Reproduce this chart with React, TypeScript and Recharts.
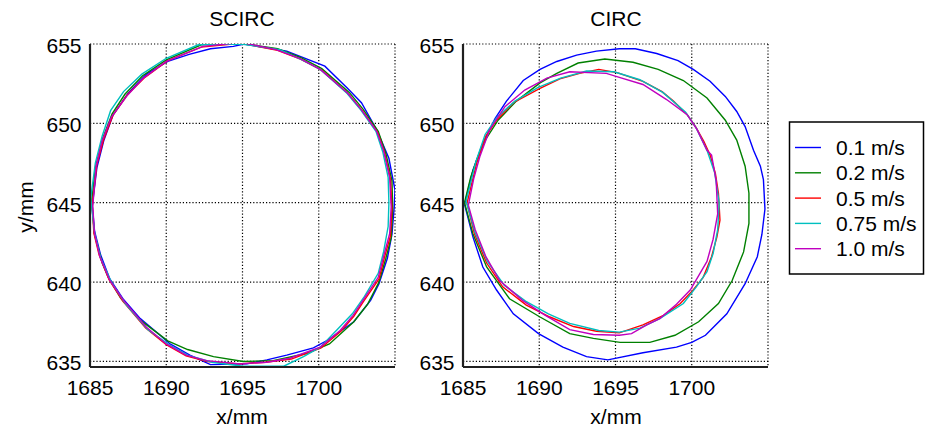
import React from "react";
import { LineChart, Line, XAxis, YAxis, CartesianGrid } from "recharts";

// ---------- data ----------
const seriesNames = ["0.1 m/s", "0.2 m/s", "0.5 m/s", "0.75 m/s", "1.0 m/s"];
const seriesColors = ["#0000FF", "#008000", "#FF0000", "#00BFBF", "#BF00BF"];
const xTicks = [1685, 1690, 1695, 1700];
const yTicks = [635, 640, 645, 650, 655];
const titles = ["SCIRC", "CIRC"];

// SCIRC
const scBlue: [number, number][] = [
  [1685.15, 644.8], [1685.45, 647.2], [1685.9, 648.9], [1686.5, 650.5], [1687.5, 651.9],
  [1688.7, 653.1], [1690.1, 653.9], [1691.5, 654.35], [1692.9, 654.7], [1694.4, 654.85],
  [1695.1, 655.0], [1697.9, 654.55], [1700.4, 653.6], [1701.9, 652.2], [1702.8, 651.3],
  [1703.8, 649.6], [1704.6, 647.8], [1705.0, 645.8], [1704.95, 644.75], [1704.8, 643.0],
  [1704.5, 641.5], [1703.95, 639.9], [1703.4, 638.85], [1702.3, 637.5], [1700.6, 636.35],
  [1699.65, 635.85], [1697.9, 635.4], [1696.6, 635.1], [1695.3, 634.85], [1692.9, 634.8],
  [1691.55, 635.4], [1690.25, 636.1], [1689.6, 636.65], [1688.3, 637.7], [1687.2, 638.9],
  [1686.3, 640.2], [1685.7, 641.7], [1685.3, 643.2], [1685.15, 644.8],
];
const scGreen: [number, number][] = [
  [1685.1, 645.0], [1685.35, 647.2], [1685.85, 649.1], [1686.45, 650.6], [1687.3, 651.85],
  [1688.45, 653.0], [1690.0, 654.0], [1692.3, 654.95], [1694.9, 655.05], [1697.3, 654.7],
  [1698.8, 654.15], [1700.2, 653.45], [1702.0, 651.95], [1702.9, 650.9], [1703.9, 649.5],
  [1704.4, 648.1], [1704.8, 646.4], [1704.85, 644.6], [1704.75, 642.8], [1704.4, 641.5],
  [1703.95, 640.0], [1703.2, 638.6], [1702.3, 637.5], [1700.7, 636.1], [1699.2, 635.5],
  [1697.0, 635.05], [1695.05, 635.0], [1693.1, 635.3], [1691.4, 635.75], [1690.1, 636.3],
  [1688.3, 637.6], [1687.0, 639.0], [1686.2, 640.3], [1685.8, 641.2], [1685.3, 643.0],
  [1685.1, 645.0],
];
const scRed: [number, number][] = [
  [1685.15, 644.9], [1685.45, 647.4], [1685.9, 649.0], [1686.5, 650.5], [1687.45, 651.8],
  [1688.6, 652.9], [1690.1, 653.95], [1692.3, 654.8], [1694.9, 655.05], [1697.3, 654.6],
  [1698.8, 654.05], [1700.2, 653.35], [1701.95, 651.85], [1702.85, 650.8], [1703.85, 649.45],
  [1704.3, 648.2], [1704.7, 646.5], [1704.8, 644.6], [1704.7, 642.9], [1704.35, 641.7],
  [1703.95, 640.2], [1702.95, 638.8], [1702.3, 637.85], [1701.45, 636.9], [1700.15, 635.85],
  [1698.2, 635.15], [1696.5, 634.95], [1694.8, 634.85], [1692.7, 635.0], [1691.3, 635.35],
  [1690.0, 636.05], [1688.65, 637.1], [1687.15, 638.8], [1686.25, 640.15], [1685.6, 641.7],
  [1685.25, 643.1], [1685.15, 644.9],
];
const scCyan: [number, number][] = [
  [1685.05, 645.3], [1685.35, 647.5], [1685.8, 649.2], [1686.35, 650.8], [1687.2, 652.0],
  [1688.4, 653.1], [1690.0, 654.1], [1692.1, 654.95], [1694.9, 655.0], [1697.45, 654.65],
  [1698.9, 654.0], [1700.1, 653.4], [1701.85, 651.9], [1702.75, 650.85], [1703.75, 649.5],
  [1704.2, 648.2], [1704.55, 646.6], [1704.6, 645.0], [1704.55, 643.5], [1704.25, 641.9],
  [1703.9, 640.55], [1703.0, 639.1], [1702.2, 638.0], [1701.2, 637.0], [1700.1, 635.9],
  [1699.0, 635.3], [1697.7, 634.7], [1695.05, 634.7], [1693.0, 634.95], [1691.4, 635.4],
  [1690.2, 636.05], [1688.8, 637.0], [1687.35, 638.6], [1686.4, 640.0], [1685.7, 641.5],
  [1685.3, 643.1], [1685.05, 645.3],
];
const scMagenta: [number, number][] = [
  [1685.18, 644.75], [1685.4, 647.3], [1685.8, 648.9], [1686.4, 650.4], [1687.4, 651.7],
  [1688.5, 652.85], [1690.0, 653.9], [1692.4, 654.85], [1694.95, 655.1], [1697.2, 654.65],
  [1698.75, 654.1], [1700.1, 653.4], [1701.9, 651.9], [1702.8, 650.85], [1703.8, 649.5],
  [1704.25, 648.3], [1704.65, 646.6], [1704.75, 644.75], [1704.65, 643.05], [1704.3, 641.8],
  [1703.9, 640.3], [1702.9, 638.85], [1702.25, 637.9], [1701.4, 636.95], [1700.1, 635.9],
  [1698.1, 635.2], [1696.6, 634.95], [1694.85, 634.85], [1692.65, 635.05], [1691.3, 635.4],
  [1690.0, 636.1], [1688.7, 637.15], [1687.2, 638.85], [1686.3, 640.1], [1685.65, 641.6],
  [1685.3, 643.05], [1685.18, 644.75],
];

// CIRC
const ciBlue: [number, number][] = [
  [1685.1, 644.9], [1685.65, 647.05], [1686.3, 648.75], [1687.1, 650.3], [1687.85, 651.4],
  [1688.95, 652.7], [1690.05, 653.4], [1691.15, 653.9], [1692.45, 654.3], [1693.75, 654.55],
  [1695.25, 654.7], [1696.3, 654.7], [1697.7, 654.4], [1699.1, 653.95], [1700.1, 653.4],
  [1701.2, 652.65], [1702.2, 651.7], [1702.95, 650.75], [1703.5, 649.8], [1704.05, 648.3],
  [1704.5, 647.3], [1704.7, 646.45], [1704.8, 644.6], [1704.6, 643.0], [1704.3, 641.6],
  [1703.5, 639.9], [1702.3, 638.0], [1700.9, 636.65], [1700.0, 636.2], [1699.0, 635.9],
  [1696.8, 635.55], [1694.5, 635.1], [1693.1, 635.3], [1691.55, 635.9], [1689.95, 636.75],
  [1688.3, 638.0], [1687.2, 639.5], [1686.3, 640.95], [1685.65, 642.85], [1685.1, 644.9],
];
const ciGreen: [number, number][] = [
  [1685.1, 645.0], [1685.5, 646.6], [1685.9, 647.7], [1686.5, 649.0], [1687.3, 650.2],
  [1688.5, 651.4], [1690.05, 652.55], [1691.15, 653.15], [1692.55, 653.8], [1694.3, 654.05],
  [1696.15, 653.85], [1697.8, 653.4], [1699.45, 652.7], [1701.0, 651.6], [1702.2, 650.2],
  [1702.95, 648.95], [1703.5, 647.3], [1703.75, 645.6], [1703.75, 643.7], [1703.4, 641.9],
  [1702.65, 640.1], [1701.75, 638.65], [1700.45, 637.5], [1698.9, 636.65], [1697.25, 636.2],
  [1695.3, 636.2], [1693.55, 636.45], [1692.0, 636.75], [1690.05, 637.8], [1688.05, 638.95],
  [1686.55, 640.95], [1685.65, 643.05], [1685.1, 645.0],
];
const ciRed: [number, number][] = [
  [1685.26, 644.96], [1685.9, 647.5], [1686.5, 649.2], [1687.2, 650.2], [1688.3, 651.3],
  [1690.05, 652.2], [1691.35, 652.8], [1692.65, 653.15], [1693.9, 653.4], [1695.1, 653.2],
  [1696.8, 652.65], [1698.05, 652.0], [1698.8, 651.4], [1699.7, 650.55], [1700.25, 649.8],
  [1700.8, 648.85], [1701.2, 648.0], [1701.55, 646.85], [1701.75, 645.6], [1701.85, 643.9],
  [1701.65, 642.85], [1701.3, 641.6], [1700.75, 640.3], [1700.0, 639.4], [1699.25, 638.65],
  [1698.15, 637.9], [1696.8, 637.3], [1695.25, 636.8], [1693.75, 636.9], [1692.25, 637.2],
  [1690.7, 637.8], [1689.15, 638.55], [1687.6, 639.7], [1686.55, 641.2], [1685.75, 643.05],
  [1685.26, 644.96],
];
const ciCyan: [number, number][] = [
  [1685.2, 645.1], [1685.85, 647.6], [1686.45, 649.3], [1687.25, 650.4], [1688.4, 651.4],
  [1689.9, 652.25], [1691.4, 652.85], [1693.1, 653.3], [1694.9, 653.25], [1696.6, 652.75],
  [1698.1, 651.95], [1699.6, 650.7], [1700.3, 649.7], [1701.0, 648.3], [1701.5, 646.9],
  [1701.8, 645.0], [1701.7, 643.3], [1701.4, 641.8], [1701.0, 640.65], [1700.3, 639.7],
  [1699.45, 638.65], [1697.9, 637.7], [1696.6, 637.1], [1695.25, 636.85], [1693.9, 636.95],
  [1692.0, 637.4], [1690.6, 638.0], [1689.1, 638.8], [1687.7, 639.8], [1686.6, 641.3],
  [1685.8, 643.1], [1685.2, 645.1],
];
const ciMagenta: [number, number][] = [
  [1685.35, 644.85], [1685.7, 646.5], [1686.1, 647.9], [1686.75, 649.6], [1687.75, 651.05],
  [1689.05, 652.1], [1690.5, 652.85], [1692.0, 653.25], [1694.4, 653.15], [1695.25, 652.9],
  [1696.8, 652.45], [1698.35, 651.5], [1699.7, 650.55], [1700.35, 649.6], [1701.0, 648.3],
  [1701.3, 648.0], [1701.6, 646.4], [1701.7, 644.3], [1701.4, 642.7], [1701.0, 641.3],
  [1699.9, 639.5], [1699.0, 638.6], [1697.9, 637.7], [1697.05, 637.3], [1696.05, 636.75],
  [1695.25, 636.65], [1693.55, 636.7], [1692.0, 637.0], [1690.4, 637.9], [1688.9, 638.85],
  [1687.4, 640.1], [1686.5, 641.6], [1685.8, 643.3], [1685.35, 644.85],
];

const scircSeries = [scBlue, scGreen, scRed, scCyan, scMagenta];
const circSeries = [ciBlue, ciGreen, ciRed, ciCyan, ciMagenta];

// ---------- layout ----------
const FONT = '"Liberation Sans", Arial, sans-serif';
const FS = 21;
const CH_W = 420;
const CH_H = 428;
const Y_W = 90;
const M = { top: 44, right: 25, left: 0, bottom: 0 };
const X_H = CH_H - M.top - 323;

const toPts = (arr: [number, number][]) => arr.map(([x, y]) => ({ x, y }));

const YTick = (props: any) => (
  <text x={props.x} y={props.y + 9} textAnchor="end" fontFamily={FONT} fontSize={FS} fill="#000">
    {props.payload.value}
  </text>
);
const XTick = (props: any) => (
  <text x={props.x} y={props.y + 20} textAnchor="middle" fontFamily={FONT} fontSize={FS} fill="#000">
    {props.payload.value}
  </text>
);

const Panel = ({ series, left }: { series: [number, number][][]; left: number }) => (
  <div style={{ position: "absolute", left, top: 0 }}>
    <LineChart width={CH_W} height={CH_H} margin={M}>
      <CartesianGrid stroke="#000" strokeDasharray="1.2 2" strokeWidth={1.2} fill="none" />
      <XAxis
        type="number"
        dataKey="x"
        domain={[1685, 1705]}
        ticks={xTicks}
        allowDataOverflow
        height={X_H}
        tickLine={false}
        tickSize={0}
        tickMargin={8}
        axisLine={{ stroke: "#202020", strokeWidth: 2.2 }}
        tick={<XTick />}
        interval={0}
      />
      <YAxis
        type="number"
        dataKey="y"
        domain={[634.65, 655]}
        ticks={yTicks}
        allowDataOverflow
        width={Y_W}
        tickLine={false}
        tickSize={0}
        tickMargin={8.5}
        axisLine={{ stroke: "#202020", strokeWidth: 2.2 }}
        tick={<YTick />}
        interval={0}
      />
      {series.map((s, i) => (
        <Line
          key={i}
          data={toPts(s)}
          dataKey="y"
          type="linear"
          stroke={seriesColors[i]}
          strokeWidth={1.4}
          dot={false}
          activeDot={false}
          isAnimationActive={false}
        />
      ))}
    </LineChart>
  </div>
);

export default function App() {
  return (
    <div style={{ position: "absolute", left: 0, top: 0, width: 928, height: 428, background: "#fff", fontFamily: FONT }}>
      <Panel series={scircSeries} left={0} />
      <Panel series={circSeries} left={373} />
      <svg width={928} height={428} style={{ position: "absolute", left: 0, top: 0, pointerEvents: "none" }}>
        <text x={242} y={26} textAnchor="middle" fontFamily={FONT} fontSize={FS} fill="#000">{titles[0]}</text>
        <text x={616} y={26} textAnchor="middle" fontFamily={FONT} fontSize={FS} fill="#000">{titles[1]}</text>
        <text x={242} y={424} textAnchor="middle" fontFamily={FONT} fontSize={FS} fill="#000">x/mm</text>
        <text x={616} y={424} textAnchor="middle" fontFamily={FONT} fontSize={FS} fill="#000">x/mm</text>
        <text x={33} y={207} textAnchor="middle" fontFamily={FONT} fontSize={FS} fill="#000" transform="rotate(-90 33 207)">y/mm</text>
        <rect x={789.5} y={122} width={134} height={152} fill="#fff" stroke="#000" strokeWidth={1.5} />
        {seriesNames.map((n, i) => (
          <g key={n}>
            <line x1={795} x2={821} y1={147.5 + i * 25.3} y2={147.5 + i * 25.3} stroke={seriesColors[i]} strokeWidth={1.4} />
            <text x={836} y={155 + i * 25.3} fontFamily={FONT} fontSize={FS} fill="#000">{n}</text>
          </g>
        ))}
      </svg>
    </div>
  );
}
